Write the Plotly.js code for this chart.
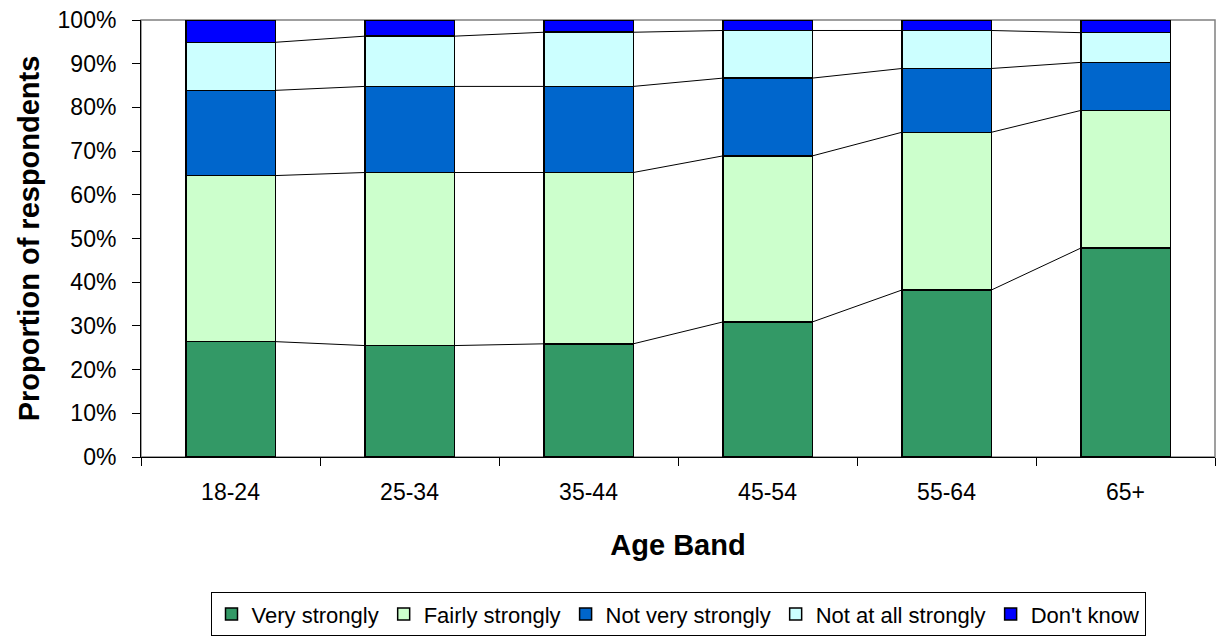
<!DOCTYPE html>
<html>
<head>
<meta charset="utf-8">
<script src="https://cdn.plot.ly/plotly-3.0.1.min.js"></script>
<style>html,body{margin:0;padding:0;background:#fff;}#chart{width:1217px;height:638px;}</style>
</head>
<body>
<div id="chart"></div>
<script>
const categories = ["18-24", "25-34", "35-44", "45-54", "55-64", "65+"];
const seriesNames = ["Very strongly", "Fairly strongly", "Not very strongly", "Not at all strongly", "Don't know"];
const veryStrongly = [26.4, 25.5, 25.9, 30.9, 38.2, 47.8];
const fairlyStrongly = [38.0, 39.6, 39.2, 38.0, 36.1, 31.5];
const notVeryStrongly = [19.5, 19.7, 19.7, 17.8, 14.6, 11.0];
const notAtAllStrongly = [11.0, 11.5, 12.4, 10.9, 8.7, 6.8];
const dontKnow = [5.1, 3.7, 2.8, 2.4, 2.4, 2.9];
const yTicks = [0, 10, 20, 30, 40, 50, 60, 70, 80, 90, 100];

const series = [veryStrongly, fairlyStrongly, notVeryStrongly, notAtAllStrongly, dontKnow];
const colors = ["#339966", "#CCFFCC", "#0066CC", "#CCFFFF", "#0000FF"];
const FONT = "Liberation Sans, Arial, sans-serif";
const barWidth = 0.5;

const traces = series.map((vals, i) => ({
  type: "bar",
  name: seriesNames[i],
  x: categories,
  y: vals,
  width: barWidth,
  marker: {color: colors[i], line: {color: "#000", width: 1.5}},
  hoverinfo: "skip"
}));

// series connecting lines between stacked segment tops
const cum = categories.map(() => 0);
for (let s = 0; s < series.length - 1; s++) {
  series[s].forEach((v, i) => cum[i] += v);
  const xs = [], ys = [];
  for (let i = 0; i < categories.length - 1; i++) {
    xs.push(i + barWidth / 2, i + 1 - barWidth / 2, null);
    ys.push(cum[i], cum[i + 1], null);
  }
  traces.push({
    type: "scatter", mode: "lines", x: xs, y: ys, xaxis: "x2",
    line: {color: "#000", width: 1}, showlegend: false, hoverinfo: "skip"
  });
}

const layout = {
  width: 1217, height: 638,
  margin: {l: 141, r: 2, t: 20, b: 181},
  paper_bgcolor: "#fff", plot_bgcolor: "#fff",
  barmode: "stack",
  font: {family: FONT, color: "#000", size: 23},
  xaxis: {
    type: "category",
    automargin: false,
    tickson: "boundaries",
    ticks: "outside", ticklen: 8, tickcolor: "#000", tickwidth: 1,
    ticklabelstandoff: 14,
    showline: true, linecolor: "#000", linewidth: 1,
    showgrid: false, zeroline: false,
    tickfont: {family: FONT, size: 23},
    title: {text: "<b>Age Band</b>", font: {family: FONT, size: 29}, standoff: 31},
    range: [-0.5, 5.5]
  },
  xaxis2: {
    overlaying: "x", range: [-0.5, 5.5], visible: false, showgrid: false, zeroline: false
  },
  yaxis: {
    range: [0, 100],
    automargin: false,
    tickvals: yTicks,
    ticktext: yTicks.map(v => v + "%"),
    ticks: "outside", ticklen: 8, tickcolor: "#000", tickwidth: 1,
    ticklabelstandoff: 11,
    showline: true, linecolor: "#000", linewidth: 1,
    showgrid: false, zeroline: false,
    tickfont: {family: FONT, size: 23},
    title: {text: "<b>Proportion of respondents</b>", font: {family: FONT, size: 29}, standoff: 9}
  },
  shapes: [
    {type: "rect", xref: "paper", yref: "paper", x0: 0, x1: 1, y0: 0, y1: 1,
     line: {color: "#808080", width: 1.5}, layer: "below"}
  ],
  legend: {
    orientation: "h",
    x: 0.5, xanchor: "center",
    y: -0.41, yanchor: "bottom",
    traceorder: "normal",
    bordercolor: "#000", borderwidth: 1,
    font: {family: FONT, size: 22},
    itemwidth: 30
  },
  showlegend: true
};

Plotly.newPlot("chart", traces, layout, {displayModeBar: false, staticPlot: true});
</script>
</body>
</html>
